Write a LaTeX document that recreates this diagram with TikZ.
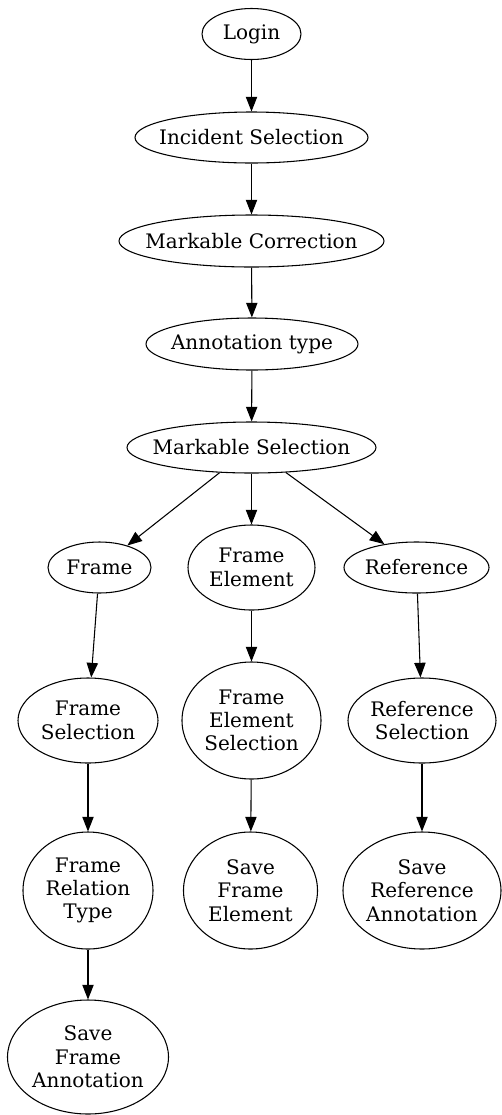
\documentclass[tikz,border=0pt]{standalone}
\usepackage{fontspec}
\setmainfont{DejaVu Serif}
\usetikzlibrary{arrows.meta,shapes.geometric}

\begin{document}
\begin{tikzpicture}[x=0.75pt,y=-0.75pt]
	\useasboundingbox (0,0) rectangle (501,1115);
	\begin{scope}[every node/.style={ellipse,draw,line width=0.8pt,inner xsep=-40pt,inner ysep=0pt,align=center,font=\fontsize{15}{17.5}\selectfont}]
		% main line
		\node[minimum width=74.25pt,minimum height=38.25pt] (login) at (251.5,34) {Login};
		\node[minimum width=174.75pt,minimum height=38.25pt] (incident) at (251.5,137.5) {Incident Selection};
		\node[minimum width=198.75pt,minimum height=39pt] (mcorr) at (251.5,241) {Markable Correction};
		\node[minimum width=159pt,minimum height=39pt] (atype) at (252,344) {Annotation type};
		\node[minimum width=186.75pt,minimum height=38.25pt] (msel) at (251.5,447.5) {Markable Selection};
		% branch level 1
		\node[minimum width=77.25pt,minimum height=38.25pt] (frame) at (99.5,567.5) {Frame};
		\node[minimum width=95.25pt,minimum height=63.75pt] (felem) at (251.5,567.5) {Frame\\Element};
		\node[minimum width=108.75pt,minimum height=38.25pt] (ref) at (416.5,567.5) {Reference};
		% branch level 2
		\node[minimum width=105pt,minimum height=63.75pt] (fsel) at (88,720.5) {Frame\\Selection};
		\node[minimum width=104.25pt,minimum height=87.75pt] (fesel) at (251.5,720.5) {Frame\\Element\\Selection};
		\node[minimum width=111pt,minimum height=63.75pt] (rsel) at (422,720.5) {Reference\\Selection};
		% branch level 3
		\node[minimum width=97.5pt,minimum height=87.75pt] (frtype) at (88,890.5) {Frame\\Relation\\Type};
		\node[minimum width=100.5pt,minimum height=87.75pt] (savefe) at (250.5,890.5) {Save\\Frame\\Element};
		\node[minimum width=118.5pt,minimum height=87.75pt] (saveref) at (422,890.5) {Save\\Reference\\Annotation};
		% branch level 4
		\node[minimum width=120.75pt,minimum height=85.5pt] (saveframe) at (88,1057) {Save\\Frame\\Annotation};
	\end{scope}

	\begin{scope}[>={Triangle[length=11pt,width=8.5pt]},
				every edge/.style={draw=black,line width=0.8pt}]
		\path [->] (login) edge (incident);
		\path [->] (incident) edge (mcorr);
		\path [->] (mcorr) edge (atype);
		\path [->] (atype) edge (msel);

		\path [->] (msel) edge (frame);
		\path [->] (msel) edge (felem);
		\path [->] (msel) edge (ref);

		\path [->] (frame) edge (fsel);
		\path [->] (fsel) edge (frtype);
		\path [->] (frtype) edge (saveframe);

		\path [->] (felem) edge (fesel);
		\path [->] (fesel) edge (savefe);

		\path [->] (ref) edge (rsel);
		\path [->] (rsel) edge (saveref);
	\end{scope}
\end{tikzpicture}
\end{document}
